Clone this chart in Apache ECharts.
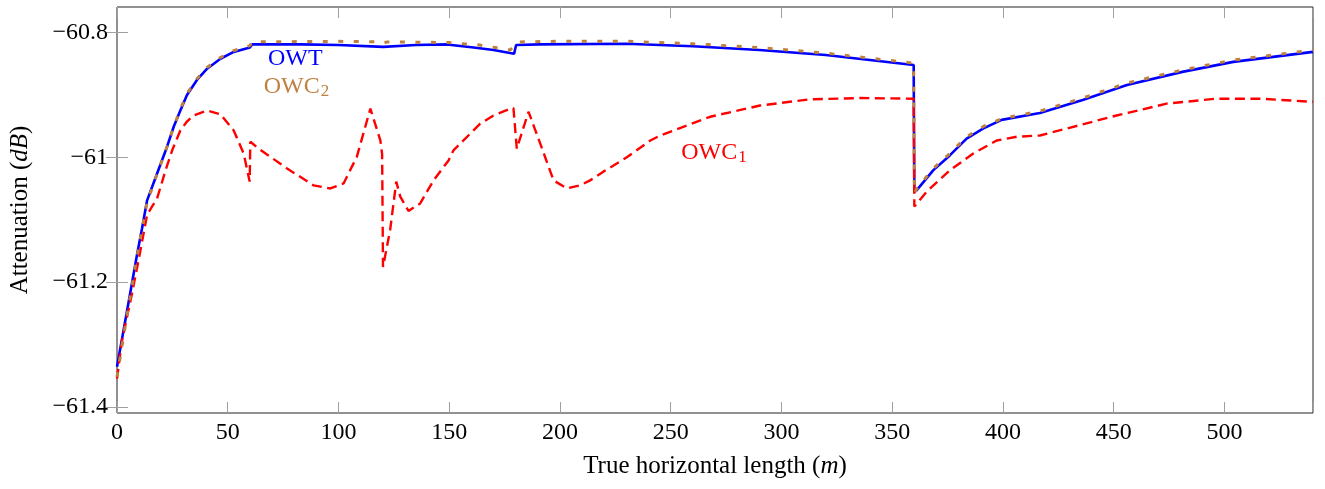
<!DOCTYPE html>
<html>
<head>
<meta charset="utf-8">
<script src="https://cdn.jsdelivr.net/npm/echarts@6/dist/echarts.min.js"></script>
<style>
html,body{margin:0;padding:0;background:#fff;}
#c{width:1325px;height:489px;}
</style>
</head>
<body>
<div id="c"></div>
<script>
// ---- data ----
const xTicks = [0, 50, 100, 150, 200, 250, 300, 350, 400, 450, 500];
const yTicks = [-61.4, -61.2, -61, -60.8];

const owtX = [0, 4.6, 9.1, 11.3, 13.6, 18.1, 22.6, 25.6, 28.6, 31.6, 36.1, 40.7, 46.7, 52.7, 60.0, 61.0, 83, 100, 120.2, 135, 149, 161, 170, 179.3, 180.2, 191, 230, 260, 290, 320, 359.7, 360.0, 361, 368.5, 376, 383.6, 391, 399.4, 416.7, 436, 456, 481, 504, 540];
const owtY = [-61.336, -61.245, -61.155, -61.114, -61.069, -61.026, -60.983, -60.951, -60.925, -60.900, -60.876, -60.858, -60.842, -60.831, -60.824, -60.819, -60.819, -60.820, -60.823, -60.820, -60.819, -60.824, -60.828, -60.834, -60.820, -60.819, -60.818, -60.822, -60.828, -60.836, -60.852, -61.055, -61.053, -61.021, -60.997, -60.970, -60.954, -60.940, -60.929, -60.908, -60.884, -60.863, -60.847, -60.831];

const owc2X = [0, 4.6, 9.1, 13.6, 18.1, 22.6, 25.6, 28.6, 31.6, 36.1, 40.7, 46.7, 52.7, 60.0, 61.0, 100, 118, 120.2, 122, 149.7, 156.5, 163.7, 170.8, 177.5, 180.8, 200, 230, 260, 290, 320, 359.7, 360.0, 361, 368.5, 376, 383.6, 391, 399.4, 416.7, 436, 456, 481, 504, 540];
const owc2Y = [-61.352, -61.252, -61.158, -61.072, -61.027, -60.983, -60.951, -60.923, -60.898, -60.874, -60.856, -60.840, -60.829, -60.821, -60.815, -60.814, -60.815, -60.817, -60.815, -60.816, -60.818, -60.820, -60.824, -60.828, -60.815, -60.814, -60.814, -60.818, -60.824, -60.833, -60.849, -61.058, -61.051, -61.018, -60.994, -60.967, -60.951, -60.938, -60.926, -60.905, -60.881, -60.860, -60.844, -60.828];

const owc1X = [0, 2.3, 6.8, 10, 13.6, 16, 18.1, 22, 25, 28.6, 31.5, 34.6, 40.7, 46.7, 52.7, 57.2, 59.9, 60.2, 63.9, 76.8, 88.8, 96.3, 102.3, 108.3, 112.1, 114.4, 118.9, 119.7, 120.1, 123.3, 126.1, 127.9, 131.6, 136.9, 142.9, 149.7, 151.9, 164, 170, 177.5, 179, 180.5, 185.8, 191.1, 197.1, 203.1, 209.1, 213.6, 219.6, 230.2, 240.8, 245.3, 267.8, 290.3, 312.9, 335.5, 359.7, 360.0, 365.6, 376, 386.6, 397.2, 406.2, 416.7, 428.7, 451.3, 473.9, 496.4, 516, 540];
const owc1Y = [-61.355, -61.293, -61.218, -61.160, -61.092, -61.078, -61.066, -61.020, -60.988, -60.957, -60.943, -60.933, -60.925, -60.931, -60.957, -60.994, -61.039, -60.975, -60.986, -61.018, -61.045, -61.050, -61.042, -60.999, -60.951, -60.922, -60.973, -60.995, -61.176, -61.117, -61.039, -61.063, -61.086, -61.074, -61.037, -61.005, -60.989, -60.946, -60.933, -60.922, -60.921, -60.986, -60.927, -60.978, -61.037, -61.050, -61.045, -61.037, -61.023, -61.000, -60.973, -60.965, -60.935, -60.917, -60.907, -60.905, -60.906, -61.079, -61.055, -61.021, -60.994, -60.973, -60.967, -60.965, -60.954, -60.933, -60.914, -60.906, -60.906, -60.911];

const labelOWT = {x: 80.5, y: -60.842, text: 'OWT'};
const labelOWC2 = {x: 81, y: -60.887, text: 'OWC', sub: '2'};
const labelOWC1 = {x: 269.5, y: -60.992, text: 'OWC', sub: '1'};

// ---- chart ----
const FONT = "'Liberation Serif', 'DejaVu Serif', serif";
const BLUE = '#0000ff', RED = '#ff0000', BROWN = '#bf8040';
const zip = (xs, ys) => xs.map((x, i) => [x, ys[i]]);
const fmtY = v => String(Math.round(v * 10) / 10).replace('-', '\u2212');

function mkLabel(l, color) {
  const txt = l.sub ? l.text + '{s|' + l.sub + '}' : l.text;
  return {
    symbol: 'rect', symbolSize: 1,
    itemStyle: {color: 'rgba(0,0,0,0)'},
    data: [{
      coord: [l.x, l.y],
      label: {
        show: true, position: 'inside', formatter: txt,
        color: color, fontFamily: FONT, fontSize: 24,
        rich: {s: {fontFamily: FONT, fontSize: 17, color: color, padding: [10, 0, 0, 1]}}
      }
    }]
  };
}

const tickStyle = {show: true, inside: true, length: 11, lineStyle: {color: '#a0a0a0', width: 1}};

const chart = echarts.init(document.getElementById('c'), null, {renderer: 'canvas'});
chart.setOption({
  animation: false,
  backgroundColor: '#fff',
  grid: {left: 117, right: 12, top: 7, bottom: 76, show: true, borderColor: '#222', borderWidth: 1, backgroundColor: 'transparent'},
  xAxis: [{
    type: 'value', min: 0, max: 540, interval: 50, position: 'bottom',
    axisLine: {show: false}, splitLine: {show: false},
    axisTick: tickStyle,
    axisLabel: {fontFamily: FONT, fontSize: 24, color: '#000', margin: 8,
      customValues: xTicks},
    name: 'True horizontal length ({i|m})', nameLocation: 'middle', nameGap: 41,
    nameTextStyle: {fontFamily: FONT, fontSize: 25, color: '#000',
      rich: {i: {fontFamily: FONT, fontSize: 25, fontStyle: 'italic', color: '#000'}}}
  }, {
    type: 'value', min: 0, max: 540, interval: 50, position: 'top',
    axisLine: {show: false}, splitLine: {show: false},
    axisTick: tickStyle, axisLabel: {show: false}
  }],
  yAxis: [{
    type: 'value', min: -61.41, max: -60.759, position: 'left',
    axisLine: {show: false}, splitLine: {show: false},
    axisTick: Object.assign({}, tickStyle, {customValues: yTicks}),
    axisLabel: {fontFamily: FONT, fontSize: 24, color: '#000', margin: 9,
      customValues: yTicks, formatter: fmtY},
    name: 'Attenuation ({i|dB})', nameLocation: 'middle', nameGap: 84,
    nameTextStyle: {fontFamily: FONT, fontSize: 25, color: '#000',
      rich: {i: {fontFamily: FONT, fontSize: 25, fontStyle: 'italic', color: '#000'}}}
  }, {
    type: 'value', min: -61.41, max: -60.759, position: 'right',
    axisLine: {show: false}, splitLine: {show: false},
    axisTick: Object.assign({}, tickStyle, {customValues: yTicks}),
    axisLabel: {show: false}
  }],
  series: [{
    name: 'OWT', type: 'line', data: zip(owtX, owtY), showSymbol: false, symbol: 'none',
    lineStyle: {color: BLUE, width: 2.6}, z: 2,
    markPoint: mkLabel(labelOWT, BLUE)
  }, {
    name: 'OWC1', type: 'line', data: zip(owc1X, owc1Y), showSymbol: false, symbol: 'none',
    lineStyle: {color: RED, width: 2.4, type: [10, 5.5]}, z: 3,
    markPoint: mkLabel(labelOWC1, RED)
  }, {
    name: 'OWC2', type: 'line', data: zip(owc2X, owc2Y), showSymbol: false, symbol: 'none',
    lineStyle: {color: BROWN, width: 3, type: [5, 10.5]}, z: 4,
    markPoint: mkLabel(labelOWC2, BROWN)
  }]
});
</script>
</body>
</html>
